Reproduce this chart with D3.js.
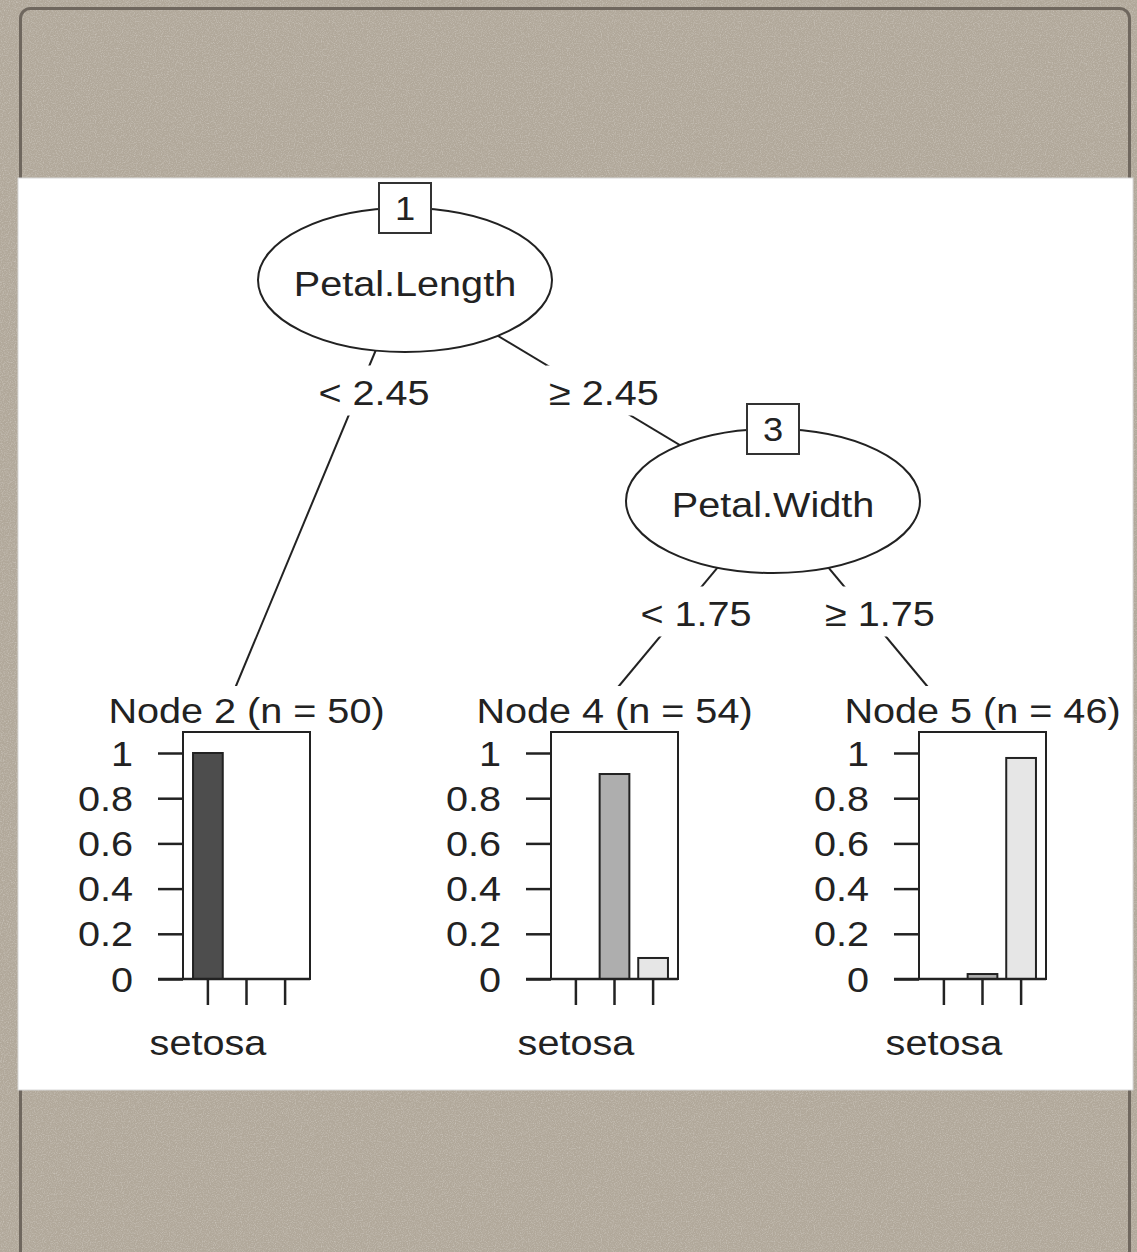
<!DOCTYPE html>
<html>
<head>
<meta charset="utf-8">
<script src="https://cdn.jsdelivr.net/npm/d3@7"></script>
<style>
  body { margin: 0; background: #b3aa9d; }
  svg { display: block; }
  text { font-family: "Liberation Sans", Arial, Helvetica, sans-serif; fill: #222; }
</style>
</head>
<body>
<div id="graph"></div>
<script>
// tree structure (ctree on iris)
const nodeIds = [1, 2, 3, 4, 5];
const parentIds = [null, 1, 1, 3, 3];
const splitVars = {1: "Petal.Length", 3: "Petal.Width"};
const edgeLabels = {2: "< 2.45", 3: "\u2265 2.45", 4: "< 1.75", 5: "\u2265 1.75"};

// terminal nodes
const classes = ["setosa", "versicolor", "virginica"];
const terminalIds = [2, 4, 5];
const terminalN = [50, 54, 46];
const node2Probs = [1.0, 0.0, 0.0];
const node4Probs = [0.0, 0.907, 0.093];
const node5Probs = [0.0, 0.022, 0.978];
const yTicks = [0, 0.2, 0.4, 0.6, 0.8, 1];

const probs = {2: node2Probs, 4: node4Probs, 5: node5Probs};
const counts = {};
terminalIds.forEach((id, i) => counts[id] = terminalN[i]);

const W = 1137, H = 1252;
const fs = 36, sx = 1.1;
const barColors = ["#4D4D4D", "#AEAEAE", "#E6E6E6"];

const graph = document.getElementById('graph');
graph.innerHTML = '<svg width="' + W + '" height="' + H + '"></svg>';
const svg = d3.select('svg');

// background
const defs = svg.append("defs");
const grain = defs.append("filter").attr("id", "grain")
  .attr("x", 0).attr("y", 0).attr("width", "100%").attr("height", "100%");
grain.append("feTurbulence").attr("type", "fractalNoise")
  .attr("baseFrequency", 0.85).attr("numOctaves", 2).attr("stitchTiles", "stitch");
grain.append("feColorMatrix").attr("type", "matrix")
  .attr("values", "0 0 0 0 1  0 0 0 0 1  0 0 0 0 1  0.6 0 0 0 -0.26");

svg.append("rect").attr("width", W).attr("height", H).attr("fill", "#b1a89a");
svg.append("rect").attr("width", W).attr("height", H).attr("filter", "url(#grain)");
svg.append("rect")
  .attr("x", 20.5).attr("y", 8.5).attr("width", 1109).attr("height", 1300)
  .attr("rx", 10).attr("fill", "none").attr("stroke", "#6f675e").attr("stroke-width", 3);
svg.append("rect")
  .attr("x", 18).attr("y", 178).attr("width", 1115).attr("height", 912)
  .attr("fill", "#fff").attr("stroke", "#d8d8d8").attr("stroke-width", 1);

// layout of the tree
const root = d3.stratify()
  .id((d, i) => nodeIds[i])
  .parentId((d, i) => parentIds[i])(nodeIds);

let slot = 0;
function place(node) {
  if (!node.children) { node.slot = slot + 0.5; slot += 1; return; }
  place(node.children[0]);
  node.slot = slot;
  place(node.children[1]);
}
place(root);

const maxDepth = root.height;
const xTree = d3.scaleLinear().domain([0, 3]).range([37, 1141]);
const yTree = d3.scaleLinear().domain([0, 2]).range([280, 722]);
root.each(d => {
  d.px = xTree(d.slot);
  d.py = yTree(d.children ? d.depth : maxDepth);
});

const g = svg.append("g");

function sText(sel, x, y, size) {
  return sel.attr("transform", "translate(" + x + "," + y + ") scale(" + sx + ",1)")
    .attr("font-size", size || fs).attr("text-anchor", "middle");
}

// edges
g.selectAll(".edge")
  .data(root.links())
  .enter().append("line")
  .attr("class", "edge")
  .attr("x1", d => d.source.px).attr("y1", d => d.source.py)
  .attr("x2", d => d.target.px).attr("y2", d => d.target.py)
  .attr("stroke", "#222").attr("stroke-width", 2);

// edge labels
root.links().forEach(l => {
  const ly = (l.source.py + yTree(l.source.depth + 1)) / 2;
  const t = (ly - l.source.py) / (l.target.py - l.source.py);
  const lx = l.source.px + t * (l.target.px - l.source.px) + 15;
  const lab = edgeLabels[l.target.id];
  const lg = g.append("g");
  const txt = sText(lg.append("text"), lx, ly + 14).text(lab);
  const w = txt.node().getComputedTextLength() * sx + 6;
  lg.insert("rect", "text")
    .attr("x", lx - w / 2).attr("y", ly - 25).attr("width", w).attr("height", 50)
    .attr("fill", "#fff");
});

// inner nodes
const inner = root.descendants().filter(d => d.children);
inner.forEach(d => {
  const ng = g.append("g");
  ng.append("ellipse")
    .attr("cx", d.px).attr("cy", d.py).attr("rx", 147).attr("ry", 72)
    .attr("fill", "#fff").attr("stroke", "#222").attr("stroke-width", 2);
  sText(ng.append("text"), d.px, d.py + 16).text(splitVars[d.id]);
  ng.append("rect")
    .attr("x", d.px - 26).attr("y", d.py - 72 - 25).attr("width", 52).attr("height", 50)
    .attr("fill", "#fff").attr("stroke", "#333").attr("stroke-width", 2);
  sText(ng.append("text"), d.px, d.py - 72 + 12, 33).text(d.id);
});

// terminal nodes: barplots
const panelW = 127, panelTop = 732;
const yBar = d3.scaleLinear().domain([0, 1]).range([979, 753]);
const xBar = d3.scaleBand().domain(classes).range([0, panelW])
  .paddingInner(0.23).paddingOuter(0.26);

root.leaves().forEach(d => {
  const x0 = d.px - 38;
  const pg = g.append("g").attr("transform", "translate(" + x0 + ",0)");

  // title with white backing
  pg.append("rect")
    .attr("x", panelW / 2 - 145).attr("y", 686).attr("width", 290).attr("height", panelTop - 686)
    .attr("fill", "#fff");
  sText(pg.append("text"), panelW / 2, 723)
    .text("Node " + d.id + " (n = " + counts[d.id] + ")");

  pg.append("rect")
    .attr("x", 0).attr("y", panelTop).attr("width", panelW).attr("height", yBar(0) - panelTop)
    .attr("fill", "#fff").attr("stroke", "#222").attr("stroke-width", 2);

  pg.selectAll(".bar")
    .data(probs[d.id])
    .enter().append("rect")
    .attr("class", "bar")
    .attr("x", (v, i) => xBar(classes[i]))
    .attr("y", v => yBar(v))
    .attr("width", xBar.bandwidth())
    .attr("height", v => yBar(0) - yBar(v))
    .attr("fill", (v, i) => barColors[i])
    .attr("stroke", "#222").attr("stroke-width", 2);

  const ya = pg.append("g")
    .call(d3.axisLeft(yBar).tickValues(yTicks).tickSize(25).tickFormat(String));
  ya.select(".domain").remove();
  ya.selectAll("line").attr("stroke", "#222").attr("stroke-width", 2.5);
  ya.selectAll("text")
    .attr("x", null).attr("dy", null).attr("fill", "#222")
    .attr("font-size", fs).attr("font-family", null)
    .attr("transform", "translate(-50,12) scale(" + sx + ",1)");

  // baseline of the panel extends to the tick marks
  pg.append("line")
    .attr("x1", -25).attr("x2", panelW).attr("y1", yBar(0)).attr("y2", yBar(0))
    .attr("stroke", "#222").attr("stroke-width", 2.5);

  const xa = pg.append("g")
    .attr("transform", "translate(0," + yBar(0) + ")")
    .call(d3.axisBottom(xBar).tickSize(26).tickFormat((c, i) => i === 0 ? c : ""));
  xa.select(".domain").remove();
  xa.selectAll("line").attr("stroke", "#222").attr("stroke-width", 2.5);
  xa.selectAll("text")
    .attr("y", null).attr("dy", null).attr("fill", "#222")
    .attr("font-size", fs).attr("font-family", null)
    .attr("transform", "translate(0,76) scale(" + sx + ",1)");
});
</script>
</body>
</html>
